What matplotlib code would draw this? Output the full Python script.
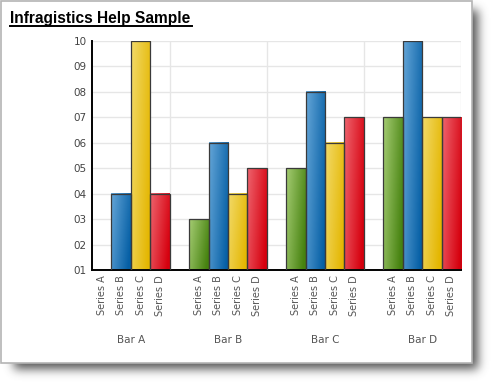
import matplotlib
matplotlib.use("Agg")
import matplotlib.pyplot as plt
from matplotlib.patches import Rectangle
import numpy as np

categories = ["Bar A", "Bar B", "Bar C", "Bar D"]
series_names = ["Series A", "Series B", "Series C", "Series D"]
series_a = [1, 3, 5, 7]
series_b = [4, 6, 8, 10]
series_c = [10, 4, 6, 7]
series_d = [4, 5, 7, 7]
y_ticks = [1, 2, 3, 4, 5, 6, 7, 8, 9, 10]

series_values = [series_a, series_b, series_c, series_d]
# light / dark end of each bar gradient
series_colors = [
    ((165, 204, 115), (70, 130, 15)),
    ((100, 165, 215), (5, 95, 165)),
    ((242, 218, 105), (228, 182, 0)),
    ((238, 100, 110), (214, 0, 14)),
]

W, H = 492, 383
fig = plt.figure(figsize=(W / 100, H / 100), dpi=100)
fig.patch.set_facecolor("white")

# background: drop shadow + white panel, in pixel coordinates
bg = fig.add_axes([0, 0, 1, 1])
bg.set_xlim(0, W)
bg.set_ylim(H, 0)
bg.axis("off")

panel_w, panel_h = 471, 362
mask = np.zeros((H, W))
mask[10:panel_h + 7, 14:panel_w + 7] = 1.0
k = np.exp(-0.5 * (np.arange(-14, 15) / 5.0) ** 2)
k /= k.sum()
blur = np.apply_along_axis(lambda r: np.convolve(r, k, mode="same"), 1, mask)
blur = np.apply_along_axis(lambda c: np.convolve(c, k, mode="same"), 0, blur)
shadow = np.zeros((H, W, 4))
shadow[..., :3] = 0.3
shadow[..., 3] = blur * 0.95
bg.imshow(shadow, extent=[0, W, H, 0], aspect="auto", zorder=0)
bg.add_patch(Rectangle((0.5, 0.5), panel_w, panel_h, facecolor="white",
                       edgecolor="#b4b4b4", lw=1.2, zorder=1))

bg.text(10, 23, "Infragistics Help Sample", fontsize=11.2, fontweight="bold",
        family="Liberation Sans", color="black", va="baseline", zorder=2)
bg.plot([10, 192], [25.5, 25.5], color="black", lw=1.4, zorder=2)

# main chart
ax = fig.add_axes([92 / W, (H - 270) / H, (461 - 92) / W, (270 - 41) / H])
ax.set_facecolor("none")

n_series = len(series_names)
slot = n_series + 1
tick_pos, tick_lab = [], []
for s, vals in enumerate(series_values):
    light, dark = series_colors[s]
    light = np.array(light) / 255.0
    dark = np.array(dark) / 255.0
    gx, gy = np.meshgrid(np.linspace(0, 1, 30), np.linspace(0, 1, 30))
    t = np.clip(0.8 * gx + 0.3 * gy, 0, 1)[..., None]
    grad = light * (1 - t) + dark * t
    for g, v in enumerate(vals):
        x0 = g * slot + s
        tick_pos.append(x0 + 0.5)
        tick_lab.append(series_names[s])
        if v <= y_ticks[0]:
            continue
        ax.imshow(grad, extent=[x0, x0 + 1, 1, v], origin="upper",
                  aspect="auto", zorder=2)
        ax.add_patch(Rectangle((x0, 1), 1, v - 1, facecolor="none",
                               edgecolor="#3a3a3a", lw=0.9, zorder=3))

ax.set_xlim(0, 19)
ax.set_ylim(1, 10)

for yv in y_ticks[1:]:
    ax.axhline(yv, color="#e6e6e6", lw=1, zorder=0)
for g in range(1, len(categories) + 1):
    ax.axvline(g * slot - 1, color="#e6e6e6", lw=1, zorder=0)

ax.set_yticks(y_ticks)
ax.set_yticklabels([f"{v:02d}" for v in y_ticks], fontsize=7.5, color="#444444")
ax.set_xticks(tick_pos)
ax.set_xticklabels(tick_lab, rotation=90, fontsize=7, color="#555555")
ax.tick_params(length=0, pad=4)
for sp in ["top", "right"]:
    ax.spines[sp].set_visible(False)
for sp in ["left", "bottom"]:
    ax.spines[sp].set_color("black")
    ax.spines[sp].set_linewidth(1.4)

for g, cat in enumerate(categories):
    cx = g * slot + (n_series / 2)
    ax.text(cx, -0.285, cat, transform=ax.get_xaxis_transform(), fontsize=7.5,
            color="#555555", ha="center", va="top")

fig.savefig("out.png", dpi=100, facecolor="white")
